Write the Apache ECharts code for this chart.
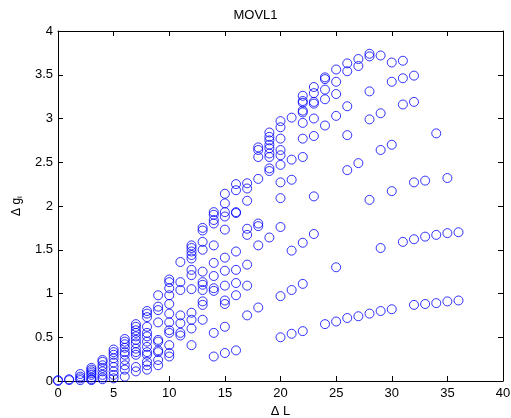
<!DOCTYPE html>
<html>
<head>
<meta charset="utf-8">
<script src="https://cdn.jsdelivr.net/npm/echarts@6/dist/echarts.min.js"></script>
<style>
html,body{margin:0;padding:0;background:#fff;}
#chart{width:511px;height:418px;}
</style>
</head>
<body>
<div id="chart"></div>
<script>
// dL value and the dg_i values read at that dL
var colsLow = [
	[0, [0.01, 0.0]],
	[1, [0.02, 0.01]],
	[2, [0.08, 0.05, 0.03, 0.01]],
	[3, [0.15, 0.13, 0.11, 0.09, 0.07, 0.04, 0.02, 0.01]],
	[4, [0.24, 0.22, 0.18, 0.15, 0.11, 0.07, 0.04, 0.02]],
	[5, [0.36, 0.33, 0.30, 0.26, 0.21, 0.16, 0.11, 0.07, 0.03]],
	[6, [0.48, 0.45, 0.42, 0.38, 0.33, 0.30, 0.24, 0.18, 0.13, 0.05]],
	[7, [0.65, 0.62, 0.58, 0.55, 0.51, 0.47, 0.43, 0.37, 0.33, 0.30, 0.16, 0.11]],
	[8, [0.80, 0.77, 0.73, 0.62, 0.55, 0.51, 0.45, 0.39, 0.33, 0.30, 0.22, 0.18, 0.13]],
	[9, [0.98, 0.85, 0.81, 0.67, 0.47, 0.45, 0.35, 0.33, 0.24, 0.18]]
];
var colsMid = [
	[10, [1.16, 1.13, 1.06, 0.98, 0.88, 0.77, 0.67, 0.58, 0.55, 0.41, 0.32, 0.28]],
	[11, [1.36, 1.13, 1.04, 0.75, 0.66, 0.55, 0.52]],
	[12, [1.55, 1.52, 1.48, 1.44, 1.40, 1.27, 1.21, 1.05, 0.78, 0.70, 0.60, 0.41]],
	[13, [1.75, 1.72, 1.59, 1.50, 1.25, 1.13, 1.10, 1.04, 0.91, 0.87, 0.70]],
	[14, [1.93, 1.90, 1.84, 1.80, 1.55, 1.35, 1.20, 1.06, 1.03, 0.55, 0.28]],
	[15, [2.14, 2.03, 1.93, 1.88, 1.73, 1.41, 1.26, 1.09, 0.92, 0.88, 0.62, 0.32]],
	[16, [2.25, 2.18, 1.93, 1.92, 1.48, 1.27, 1.12, 0.98, 0.35]],
	[17, [2.26, 2.20, 2.06, 1.74, 1.67, 1.33, 1.09, 0.75]],
	[18, [2.67, 2.64, 2.56, 2.31, 1.80, 1.77, 1.55, 0.84]],
	[19, [2.84, 2.79, 2.75, 2.70, 2.66, 2.60, 2.56, 2.43, 2.40, 1.64]]
];
var colsHigh = [
	[20, [2.97, 2.90, 2.77, 2.64, 2.58, 2.47, 2.27, 2.09, 1.76, 0.97, 0.50]],
	[21, [3.01, 2.53, 2.30, 1.49, 1.04, 0.54]],
	[22, [3.26, 3.20, 3.18, 3.09, 3.07, 2.95, 2.77, 2.56, 1.58, 1.11, 0.57]],
	[23, [3.36, 3.29, 3.19, 3.17, 3.00, 2.80, 2.11, 1.68]],
	[24, [3.47, 3.45, 3.33, 3.22, 2.92, 0.65]],
	[25, [3.56, 3.42, 3.28, 3.03, 1.30, 0.68]],
	[26, [3.63, 3.54, 3.14, 2.81, 2.41, 0.72]],
	[27, [3.68, 3.60, 2.49, 0.74]],
	[28, [3.74, 3.71, 3.31, 2.99, 2.07, 0.77]],
	[29, [3.72, 3.06, 2.64, 1.52, 0.80]],
	[30, [3.64, 3.42, 2.70, 2.17, 0.82]],
	[31, [3.66, 3.46, 3.16, 1.59]],
	[32, [3.49, 3.19, 2.27, 1.62, 0.87]],
	[33, [2.29, 1.65, 0.88]],
	[34, [2.83, 1.67, 0.89]],
	[35, [2.32, 1.69, 0.91]],
	[36, [1.70, 0.92]]
];

var FONT = 'Liberation Sans, Arial, sans-serif';

function buildPoints()
{
	var pts = [];
	var all = colsLow.concat(colsMid, colsHigh);
	for( var i = 0 ; i < all.length ; i++ )
	{
		var x = all[i][0];
		var ys = all[i][1];
		for( var j = 0 ; j < ys.length ; j++ ) pts.push([x, ys[j]]);
	}
	return pts;
}

function axisX(pos, showLabel)
{
	return {
		type: 'value', position: pos, min: 0, max: 40, interval: 5,
		axisLine: { show: true, onZero: false, lineStyle: { color: '#000', width: 1 } },
		axisTick: { show: true, inside: true, length: 5, lineStyle: { color: '#000' } },
		axisLabel: { show: showLabel, color: '#000', fontSize: 13, fontFamily: FONT, margin: 6 },
		splitLine: { show: false },
		name: showLabel ? 'Δ L' : '',
		nameLocation: 'middle', nameGap: 24,
		nameTextStyle: { color: '#000', fontSize: 13, fontFamily: FONT }
	};
}

function axisY(pos, showLabel)
{
	return {
		type: 'value', position: pos, min: 0, max: 4, interval: 0.5,
		axisLine: { show: true, onZero: false, lineStyle: { color: '#000', width: 1 } },
		axisTick: { show: true, inside: true, length: 5, lineStyle: { color: '#000' } },
		axisLabel: { show: showLabel, color: '#000', fontSize: 13, fontFamily: FONT, margin: 5 },
		splitLine: { show: false },
		name: showLabel ? 'Δ g{sub|i}' : '',
		nameLocation: 'middle', nameGap: 34, nameRotate: 90,
		nameTextStyle: {
			color: '#000', fontSize: 12, fontFamily: FONT,
			rich: { sub: { fontSize: 8, fontFamily: FONT, color: '#000', verticalAlign: 'bottom', padding: [6, 0, 0, 0] } }
		}
	};
}

var chart = echarts.init(document.getElementById('chart'));
chart.setOption({
	backgroundColor: '#fff',
	animation: false,
	title: {
		text: 'MOVL1', left: 'center', top: 4,
		textStyle: { color: '#000', fontSize: 13, fontWeight: 'normal', fontFamily: FONT }
	},
	grid: { left: 58, right: 8, top: 31, bottom: 37, containLabel: false, outerBoundsMode: 'none' },
	xAxis: [ axisX('bottom', true), axisX('top', false) ],
	yAxis: [ axisY('left', true), axisY('right', false) ],
	series: [{
		type: 'scatter',
		symbol: 'circle',
		symbolSize: 9,
		clip: false,
		itemStyle: { color: 'rgba(0,0,0,0)', borderColor: '#0000ff', borderWidth: 1 },
		data: buildPoints()
	}]
});
</script>
</body>
</html>
